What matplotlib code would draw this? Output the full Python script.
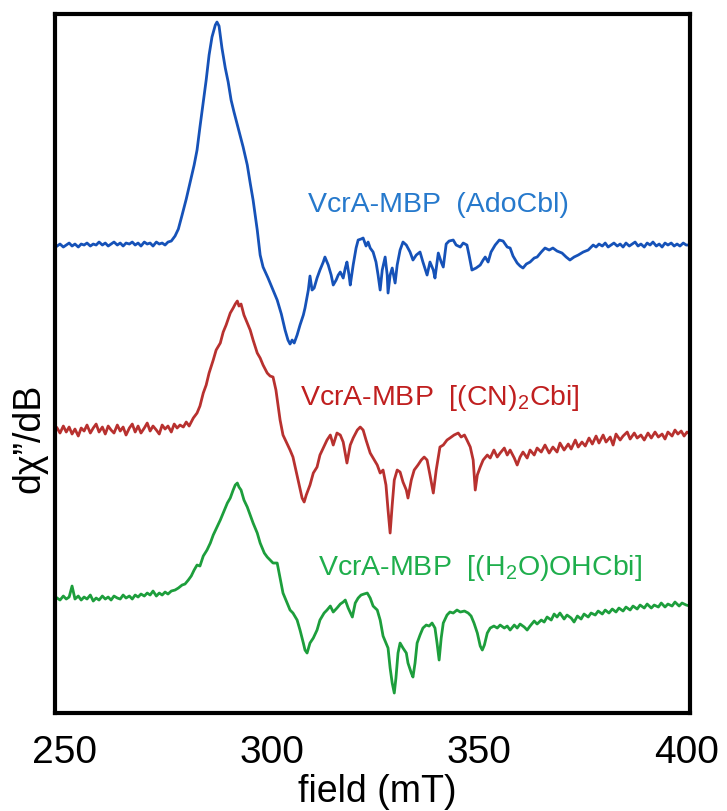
import matplotlib
matplotlib.use('Agg')
import matplotlib.pyplot as plt

plt.rcParams['font.family'] = ['Liberation Sans', 'DejaVu Sans']
plt.rcParams['mathtext.fontset'] = 'custom'
plt.rcParams['mathtext.rm'] = 'Liberation Sans'

# field values shared by the flat start of the traces (mT)
base_field = [248.3, 249.0, 249.8, 250.5, 251.2, 251.9, 252.6, 253.4, 254.1, 254.8,
              255.5, 256.3, 257.0, 257.7, 258.4, 259.2, 259.9, 260.6, 261.3, 262.0,
              262.8, 263.5, 264.2, 264.9, 265.7, 266.4, 267.1, 267.8, 268.5, 269.3,
              270.0, 270.7, 271.4, 272.2, 272.9, 273.6, 274.3, 275.0, 275.8]

# AdoCbl (blue)
blue_field = base_field + [
    276.7, 277.5, 278.4, 279.4, 280.3, 281.3, 282.0, 282.7, 283.5, 284.2,
    284.9, 285.6, 286.4, 286.8, 287.3, 288.0, 288.8, 289.5, 290.2, 290.9,
    291.9, 293.1, 294.1, 294.8, 295.5, 296.5, 297.2, 297.9, 299.1, 300.3,
    301.3, 302.3, 303.2, 303.9, 304.4, 304.9, 305.4, 306.1, 306.8, 307.6,
    308.0, 308.8, 309.2, 309.7, 310.2, 310.9, 311.6, 312.4, 312.8, 313.6,
    314.3, 314.8, 315.5, 316.0, 316.5, 317.2, 317.7, 318.1, 318.6, 318.9,
    319.6, 320.3, 320.8, 321.5, 322.0, 322.7, 323.2, 323.7, 324.4, 325.1,
    325.6, 326.1, 326.6, 327.3, 327.8, 328.0, 328.5, 329.0, 329.7, 330.2,
    330.9, 331.6, 332.4, 333.3, 334.0, 334.8, 335.7, 336.4, 337.4, 338.1,
    338.9, 339.3, 340.1, 340.8, 341.3, 342.0, 342.7, 343.7, 344.4, 345.4,
    346.1, 347.0, 347.5, 348.2, 349.2, 350.2, 350.9, 351.4, 352.1, 352.8,
    353.8, 354.8, 355.7, 356.7, 357.4, 358.1, 359.1, 359.8, 360.5, 361.3,
    362.2, 363.2, 363.9, 364.9, 365.8, 366.8, 367.7, 368.7, 369.9, 370.9,
    371.8, 372.8, 373.8, 375.0, 376.2, 376.9, 377.4,
    378.1, 378.8, 379.6, 380.3, 381.0, 381.7, 382.4, 383.2, 383.9, 384.6,
    385.3, 386.1, 386.8, 387.5, 388.2, 388.9, 389.7, 390.4, 391.1, 391.8,
    392.6, 393.3, 394.0, 394.7, 395.4, 396.2, 396.9, 397.6, 398.3, 399.1,
    399.8, 400.7]
blue_signal = [
    -1, 1, -2, 0, 2, -1, 1, -2, 1, 0,
    2, -1, 1, 0, 3, 0, 2, -1, 1, 3,
    0, 2, -1, 2, 1, 3, 0, 2, -1, 3,
    1, 2, -1, 3, 1, 2, 0, 3, 4,
    9, 16, 30, 46, 62, 80, 95, 118, 143, 165,
    190, 208, 220, 223, 219, 197, 177, 163, 145, 133,
    117, 98, 80, 62, 45, 15, -10, -22, -33, -45,
    -55, -69, -85, -95, -99, -95, -98, -90, -80, -70,
    -63, -45, -31, -45, -43, -33, -25, -17, -12, -20,
    -30, -40, -35, -30, -27, -33, -23, -17, -30, -40,
    -20, -3, 5, 6, 7, -1, 3, -3, -7, -17,
    -30, -45, -25, -12, -30, -48, -30, -23, -38, -20,
    -5, 3, 0, -7, -15, -10, -7, -17, -30, -17,
    -25, -33, -8, -17, -22, 1, 4, 5, 0, -2,
    2, 0, -10, -25, -23, -20, -15, -12, -17, -7,
    0, 5, 4, -2, -3, -11, -18, -21, -23, -19,
    -17, -13, -12, -7, -3, -5, -3, -6, -8, -12,
    -15, -12, -10, -7, -5, -2, 0,
    -2, 1, -1, 2, -2, 0, 2, -1, 1, -2,
    2, -1, 1, 3, -1, 1, -2, 2, 0, 3,
    -1, 1, -2, 2, 0, 2, -1, 1, -1, 2,
    0, 0]

# (CN)2Cbi (red)
red_field = base_field + [276.5, 277.2, 277.9, 278.7, 279.4, 280.1] + [
    281.1, 282.0, 282.7, 283.5, 284.2, 284.9, 285.9, 286.6, 287.6, 288.3,
    289.0, 290.0, 290.7, 291.2, 291.7, 292.1, 292.6, 293.3, 294.1, 294.8,
    295.5, 296.5, 297.2, 297.9, 298.9, 299.6, 300.3, 301.0, 302.0, 302.7,
    303.6, 304.4, 305.1, 305.8, 306.6, 307.3, 307.8, 308.3, 309.2, 310.0,
    310.9, 311.6, 312.4, 313.3, 314.1, 314.8, 315.7, 316.5, 317.2, 318.1,
    318.9, 319.6, 320.6, 321.3, 322.0, 322.7, 323.7, 324.4, 325.4, 326.1,
    326.8, 327.5, 328.0, 328.5, 329.0, 329.5, 330.2, 330.9, 331.6, 332.4,
    332.8, 333.6, 334.3, 335.2, 336.0, 336.7, 337.4, 338.1, 338.9, 339.6,
    340.5, 341.3, 342.2, 342.9, 343.9, 344.9, 345.6, 346.4, 347.0, 347.8,
    348.5, 349.0, 349.5, 350.2, 350.9, 351.9, 352.6, 353.5, 354.3, 355.0,
    356.0, 356.7, 357.4, 358.4, 359.1, 359.8, 360.5, 361.5, 362.2, 363.2,
    363.9, 364.9, 365.8, 366.8, 367.7, 368.7, 369.4, 370.4, 371.4, 372.1,
    373.1, 373.8, 374.7, 375.5, 376.4, 377.2, 378.1, 378.8, 379.8, 380.5,
    381.5, 382.2, 382.9, 383.9, 384.6, 385.6, 386.3, 387.3, 388.0, 388.9,
    389.7, 390.6, 391.4, 392.3, 393.1, 394.0, 394.7, 395.4, 396.4, 397.1,
    397.8, 398.6, 399.3, 400.0, 400.7]
red_signal = [
    2, -3, 4, -2, 3, -4, 1, -6, 2, -1,
    5, -3, 2, 6, -2, 3, -4, 4, 0, -3,
    5, -1, 3, -5, 2, 6, -2, 4, -3, 2,
    7, -1, 4, 0, -4, 5, 1, 4, -2, 6,
    2, 5, 3, 8, 4,
    12, 17, 24, 37, 45, 57, 70, 80, 87, 98,
    105, 117, 122, 126, 129, 124, 126, 115, 107, 100,
    90, 77, 72, 65, 57, 54, 53, 40, 10, -5,
    -13, -20, -27, -40, -55, -68, -72, -65, -55, -43,
    -37, -25, -18, -10, -5, -15, -3, -5, -12, -33,
    -15, -8, 0, 3, 0, -10, -23, -28, -35, -43,
    -40, -55, -80, -103, -75, -50, -40, -42, -52, -60,
    -68, -50, -40, -35, -30, -27, -30, -45, -63, -40,
    -17, -15, -10, -8, -5, -3, -7, -5, -10, -17,
    -30, -60, -45, -37, -30, -25, -28, -20, -27, -23,
    -18, -25, -20, -28, -35, -27, -22, -28, -20, -25,
    -18, -22, -15, -23, -17, -22, -13, -20, -14, -19,
    -10, -17, -12, -16, -8, -14, -6, -13, -5, -12,
    -7, -15, -4, -10, -6, -2, -9, -3, -8, -5,
    -10, -3, -8, -2, -7, -4, -9, -2, -6, 0,
    -4, -1, -6, -2, -4]

# (H2O)OHCbi (green)
green_field = base_field + [
    276.7, 277.5, 278.4, 279.1, 279.9, 280.6, 281.3, 282.0, 282.7, 283.5,
    284.4, 285.2, 285.9, 286.8, 287.6, 288.5, 289.3, 290.0, 290.7, 291.2,
    291.7, 292.1, 292.6, 293.3, 294.1, 294.8, 295.5, 296.5, 297.2, 298.2,
    298.9, 299.6, 300.3, 301.3, 302.0, 302.7, 303.5, 304.4, 305.1, 306.1,
    306.8, 307.6, 308.0, 308.5, 309.2, 310.0, 310.9, 311.6, 312.6, 313.3,
    314.1, 314.8, 315.7, 316.5, 317.2, 317.7, 318.4, 319.4, 320.1, 320.8,
    321.5, 322.2, 323.0, 323.7, 324.4, 325.4, 326.1, 326.8, 327.5, 328.0,
    328.5, 329.0, 329.5, 329.9, 330.4, 330.9, 331.6, 332.4, 332.8, 333.6,
    334.0, 334.5, 335.0, 335.7, 336.4, 337.2, 337.9, 338.6, 339.3, 339.8,
    340.3, 340.8, 341.3, 342.2, 342.9, 343.7, 344.6, 345.4, 346.4, 347.3,
    348.0, 348.7, 349.5, 350.2, 350.7, 351.2, 351.9, 352.6, 353.5, 354.3,
    355.0, 356.0, 356.7, 357.4, 358.4, 359.1, 359.8, 360.8, 361.5, 362.2,
    363.2, 363.9, 364.9, 365.6, 366.3, 367.3, 368.0, 368.7, 369.4, 370.4,
    371.1, 372.1, 372.8, 373.6, 374.5, 375.2, 376.2, 376.9, 377.9, 378.6,
    379.6, 380.3, 381.2, 382.0, 382.9, 383.6, 384.6, 385.3, 386.3, 387.0,
    388.0, 388.7, 389.7, 390.4, 391.4, 392.1, 393.1, 393.8, 394.7, 395.4,
    396.4, 397.1, 398.1, 398.8, 399.8, 400.7]
green_signal = [
    0, -2, 2, -1, 1, 12, -1, 2, -2, 1,
    -1, 3, -3, 0, -2, 2, -1, 1, -2, 2,
    0, -1, 3, 0, 2, -1, 3, 1, 4, 2,
    5, 3, 7, 2, 5, 3, 6, 4, 7,
    8, 10, 13, 14, 18, 22, 28, 33, 32, 42,
    48, 55, 63, 71, 78, 87, 95, 100, 108, 113,
    115, 111, 108, 98, 91, 83, 75, 65, 55, 45,
    41, 38, 35, 35, 20, 5, -3, -12, -15, -22,
    -32, -45, -52, -55, -45, -40, -32, -22, -15, -12,
    -8, -14, -10, -6, -4, -2, -10, -19, -5, 0,
    3, 4, 5, 0, -8, -12, -22, -38, -45, -50,
    -70, -85, -95, -80, -55, -45, -50, -55, -65, -75,
    -79, -65, -45, -37, -30, -27, -28, -25, -30, -45,
    -62, -40, -25, -17, -14, -15, -12, -14, -13, -15,
    -18, -25, -35, -48, -52, -47, -35, -30, -28, -30,
    -27, -30, -28, -32, -27, -30, -26, -29, -32, -28,
    -23, -26, -22, -24, -19, -22, -16, -19, -15, -21,
    -17, -20, -24, -18, -21, -16, -19, -15, -17, -13,
    -16, -12, -15, -11, -14, -10, -13, -9, -12, -8,
    -11, -7, -10, -6, -10, -7, -9, -5, -9, -6,
    -8, -4, -8, -5, -7, -8]

labels = ['VcrA-MBP  (AdoCbl)',
          r'VcrA-MBP  [(CN)$_\mathregular{2}$Cbi]',
          r'VcrA-MBP  [(H$_\mathregular{2}$O)OHCbi]']
xticks = [250, 300, 350, 400]

# stacking offsets + colours
offsets = [468, 283, 115]
line_colors = ['#1652b8', '#b8312f', '#1d9e3c']
text_colors = ['#2679cc', '#c01f1f', '#1fae4c']
text_pos = [(0.398, 0.717), (0.386, 0.441), (0.414, 0.197)]

fig = plt.figure(figsize=(7.27, 8.11), dpi=100)
ax = fig.add_axes([0.0757, 0.1208, 0.8733, 0.8619])

traces = [(blue_field, blue_signal), (red_field, red_signal), (green_field, green_signal)]
for i, (f, s) in enumerate(traces):
    assert len(f) == len(s), (i, len(f), len(s))
    ax.plot(f, [v + offsets[i] for v in s], color=line_colors[i], lw=2.0)
    ax.text(text_pos[i][0], text_pos[i][1], labels[i], transform=ax.transAxes,
            color=text_colors[i], fontsize=20.5, va='baseline', ha='left')

ax.set_xlim(247.8, 400.7)
ax.set_ylim(0, 699)
ax.set_xticks(xticks)
ax.set_yticks([])
ax.tick_params(axis='x', length=0, pad=16, labelsize=28)
for sp in ax.spines.values():
    sp.set_linewidth(3)

# axis titles placed by hand (x title sits close to the bottom edge)
fig.text(0.519, 0.011, 'field (mT)', fontsize=27, ha='center', va='baseline')
fig.text(0.04, 0.46, 'd\u03c7\u201d/dB', rotation=90, fontsize=27,
         ha='center', va='center')

fig.savefig('out.png', dpi=100)
